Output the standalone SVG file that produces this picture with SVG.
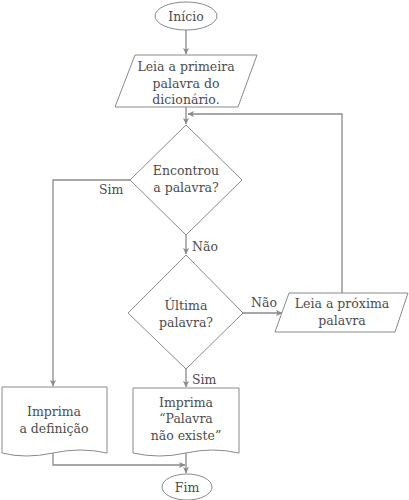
<svg xmlns="http://www.w3.org/2000/svg" width="409" height="500" viewBox="0 0 409 500">
<style>
.shape{fill:#fff;stroke:#8a8a8a;stroke-width:1}
.conn{fill:none;stroke:#8a8a8a;stroke-width:1.3;marker-end:url(#arr)}
text{font-family:"DejaVu Serif",serif;font-size:12.5px;fill:#4d4d4d;text-anchor:middle}
.lbl{text-anchor:start}
</style>
<defs>
<marker id="arr" markerWidth="7" markerHeight="6" refX="6" refY="3" orient="auto" markerUnits="userSpaceOnUse">
<path d="M0,0 L6.5,3 L0,6 L1.5,3 Z" fill="#8a8a8a"/>
</marker>
</defs>
<g id="connectors">
<path class="conn" d="M186,30 L186,54"/>
<path class="conn" d="M186,107 L186,124"/>
<path class="conn" d="M342,293 L342,114 L188,114"/>
<path class="conn" d="M130,180 L53,180 L53,386"/>
<path class="conn" d="M186,235 L186,254"/>
<path class="conn" d="M243,313 L282,313"/>
<path class="conn" d="M186,369 L186,387"/>
<path class="conn" d="M53,453 L53,465 L185,465"/>
<path class="conn" d="M186,453 L186,473"/>
<text class="lbl" x="99" y="194">Sim</text>
<text class="lbl" x="192" y="251">Não</text>
<text class="lbl" x="251" y="307">Não</text>
<text class="lbl" x="192" y="384">Sim</text>
</g>
<g id="inicio">
<ellipse class="shape" cx="186" cy="16" rx="31" ry="14"/>
<text x="186" y="21">Início</text>
</g>
<g id="leia1">
<polygon class="shape" points="135,55 257,55 238,107 115,107"/>
<text x="186" y="71">Leia a primeira</text>
<text x="186" y="88">palavra do</text>
<text x="186" y="104">dicionário.</text>
</g>
<g id="encontrou">
<polygon class="shape" points="186,125 242,180 186,235 130,180"/>
<text x="186" y="175">Encontrou</text>
<text x="186" y="192">a palavra?</text>
</g>
<g id="ultima">
<polygon class="shape" points="186,255 243,313 186,369 128,313"/>
<text x="186" y="310">Última</text>
<text x="186" y="327">palavra?</text>
</g>
<g id="leia2">
<polygon class="shape" points="289,293 408,293 395,332 275,332"/>
<text x="342" y="308">Leia a próxima</text>
<text x="342" y="325">palavra</text>
</g>
<g id="imprima1">
<path class="shape" d="M2,387 L107,387 L107,453 Q80.5,447 53,453 T2,453 Z"/>
<text x="54" y="416">Imprima</text>
<text x="54" y="433">a definição</text>
</g>
<g id="imprima2">
<path class="shape" d="M133,388 L239,388 L239,453 Q212.5,447 186,453 T133,453 Z"/>
<text x="186" y="407">Imprima</text>
<text x="186" y="423">“Palavra</text>
<text x="186" y="440">não existe”</text>
</g>
<g id="fim">
<ellipse class="shape" cx="187" cy="487" rx="25" ry="13"/>
<text x="187" y="492">Fim</text>
</g>
</svg>
